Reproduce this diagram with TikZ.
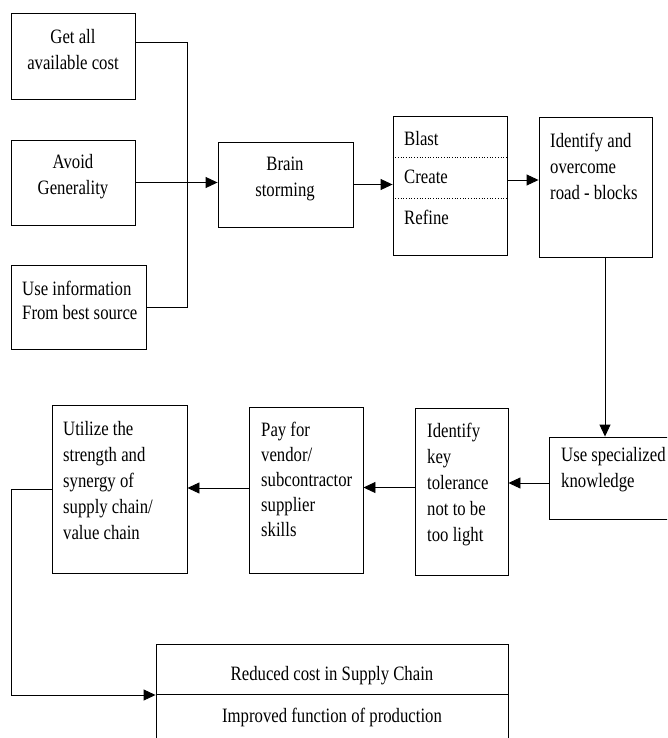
\documentclass[tikz,border=0pt]{standalone}
\usepackage{fontspec}
\setmainfont{Liberation Serif}[FakeStretch=0.82]
\usetikzlibrary{arrows.meta,calc}
\begin{document}
\begin{tikzpicture}[x=1pt,y=-1pt,
  box/.style={draw, line width=0.9pt, inner sep=0pt},
  txt/.style={inner sep=0pt, align=left, font=\fontsize{20.4}{26}\selectfont},
  arr/.style={-{Triangle[length=12pt,width=11pt]}, line width=0.9pt},
  lnk/.style={line width=0.9pt}]
\useasboundingbox (0,0) rectangle (667,738);
\clip (0,0) rectangle (667,738);
% boxes
\node[box, minimum width=124pt, minimum height=86pt] (b1) at (73,56) {};
\node[box, minimum width=124pt, minimum height=85pt] (b2) at (73,182.5) {};
\node[box, minimum width=135pt, minimum height=84pt] (b3) at (78.5,307) {};
\node[box, minimum width=135pt, minimum height=85pt] (bs) at (285.5,184.5) {};
\node[box, minimum width=114pt, minimum height=139pt] (bcr) at (450,185.5) {};
\node[box, minimum width=113pt, minimum height=140pt] (rb) at (595.5,187) {};
\node[box, minimum width=131pt, minimum height=82pt] (us) at (614.5,478) {};
\node[box, minimum width=93pt, minimum height=167pt] (ik) at (461.5,491.5) {};
\node[box, minimum width=114pt, minimum height=166pt] (pay) at (306,490) {};
\node[box, minimum width=135pt, minimum height=168pt] (ut) at (119.5,489) {};
\node[box, minimum width=352pt, minimum height=120pt] (res) at (332,704) {};
% inner dividers
\draw[dotted, line width=0.7pt] ($(bcr.north west)+(0,42)$) -- ($(bcr.north east)+(0,42)$);
\draw[dotted, line width=0.7pt] ($(bcr.north west)+(0,83)$) -- ($(bcr.north east)+(0,83)$);
\draw[lnk] ($(res.north west)+(0,51)$) -- ($(res.north east)+(0,51)$);
% texts
\node[txt, anchor=north, align=center] (t1) at (73,29) {Get all\\available cost};
\node[txt, anchor=north, align=center] (t2) at (73,154) {Avoid\\Generality};
\node[txt, anchor=north west, font=\fontsize{20.4}{24}\selectfont] (t3) at (22,281) {Use information\\From best source};
\node[txt, anchor=north, align=center] (tbs) at (285,157) {Brain\\storming};
\node[txt, anchor=north west] (tb) at (404,131) {Blast};
\node[txt, anchor=north west] (tc) at (404,170) {Create};
\node[txt, anchor=north west] (tr) at (404,210) {Refine};
\node[txt, anchor=north west] (trb) at (550,133) {Identify and\\overcome\\road - blocks};
\node[txt, anchor=north west] (tus) at (561,447) {Use specialized\\knowledge};
\node[txt, anchor=north west] (tik) at (427,423) {Identify\\key\\tolerance\\not to be\\too light};
\node[txt, anchor=north west, font=\fontsize{20.4}{25}\selectfont] (tpay) at (261,422) {Pay for\\vendor/\\subcontractor\\supplier\\skills};
\node[txt, anchor=north west] (tut) at (63,421) {Utilize the\\strength and\\synergy of\\supply chain/\\value chain};
\node[txt, anchor=north] (tres1) at (332,666) {Reduced cost in Supply Chain};
\node[txt, anchor=north] (tres2) at (332,708) {Improved function of production};
% connectors
\coordinate (j) at (187,182.5);
\draw[lnk] ([yshift=-30pt]b1.north east) -| (j);
\draw[lnk] (b3.east) -| (j);
\draw[arr] (b2.east) -- (b2.east -| bs.west);
\draw[arr] (bs.east) -- (bs.east -| bcr.west);
\draw[arr] ([yshift=5.5pt]bcr.east) -- ([yshift=5.5pt]bcr.east -| rb.west);
\draw[arr] ([xshift=9.5pt]rb.south) -- ([xshift=9.5pt]rb.south |- us.north);
\draw[arr] ([yshift=-5pt]us.west) -- ([yshift=-5pt]us.west -| ik.east);
\draw[arr] ([yshift=4pt]ik.west) -- ([yshift=4pt]ik.west -| pay.east);
\draw[arr] ([yshift=2pt]pay.west) -- ([yshift=2pt]pay.west -| ut.east);
\coordinate (c) at (11,695);
\draw[arr] (ut.west) -| (c) -- (c -| res.west);
\end{tikzpicture}
\end{document}
